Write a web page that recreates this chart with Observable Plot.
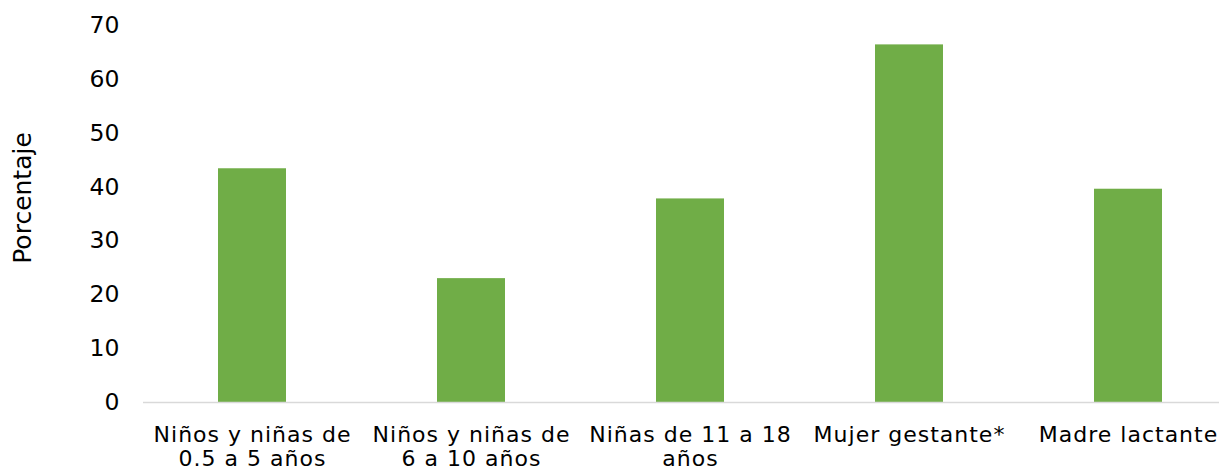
<!DOCTYPE html>
<html>
<head>
<meta charset="utf-8">
<script src="https://cdn.jsdelivr.net/npm/d3@7"></script>
<script src="https://cdn.jsdelivr.net/npm/@observablehq/plot@0.6"></script>
<style>
  html, body { margin: 0; padding: 0; background: #fff; }
  #chart svg { display: block; }
  #chart svg g[aria-label="x-axis tick label"] text { letter-spacing: 1px; }
</style>
</head>
<body>
<div id="chart"></div>
<script>
const categories = ["Niños y niñas de\n0.5 a 5 años", "Niños y niñas de\n6 a 10 años", "Niñas de 11 a 18\naños", "Mujer gestante*", "Madre lactante"];
const values = [43.4, 23.0, 37.8, 66.4, 39.6];
const yTicks = [0, 10, 20, 30, 40, 50, 60, 70];

const data = categories.map((c, i) => ({category: c, value: values[i]}));

const chart = Plot.plot({
  width: 1219,
  height: 473,
  marginTop: 25,
  marginBottom: 71,
  marginLeft: 143,
  marginRight: 0,
  style: {fontFamily: "DejaVu Sans, Verdana, sans-serif", fontSize: "22px", color: "#000", background: "#fff"},
  x: {domain: categories, range: [142.5, 1237.5], paddingInner: 0.69, paddingOuter: 0.345, label: null},
  y: {domain: [0, 70], label: null},
  marks: [
    Plot.barY(data, {x: "category", y: "value", fill: "#70AD47"}),
    Plot.ruleY([0], {stroke: "#d9d9d9", strokeWidth: 1.5}),
    Plot.axisY({ticks: yTicks, tickSize: 0, tickPadding: 24, fontSize: 23.5, label: null}),
    Plot.axisX({tickSize: 0, tickPadding: 22, fontSize: 22, lineHeight: 1.09, label: null}),
    Plot.text(["Porcentaje"], {frameAnchor: "left", textAnchor: "middle", dx: -121, dy: -16, rotate: -90, fontSize: 25, fill: "#000"})
  ]
});
document.getElementById("chart").appendChild(chart);
</script>
</body>
</html>
